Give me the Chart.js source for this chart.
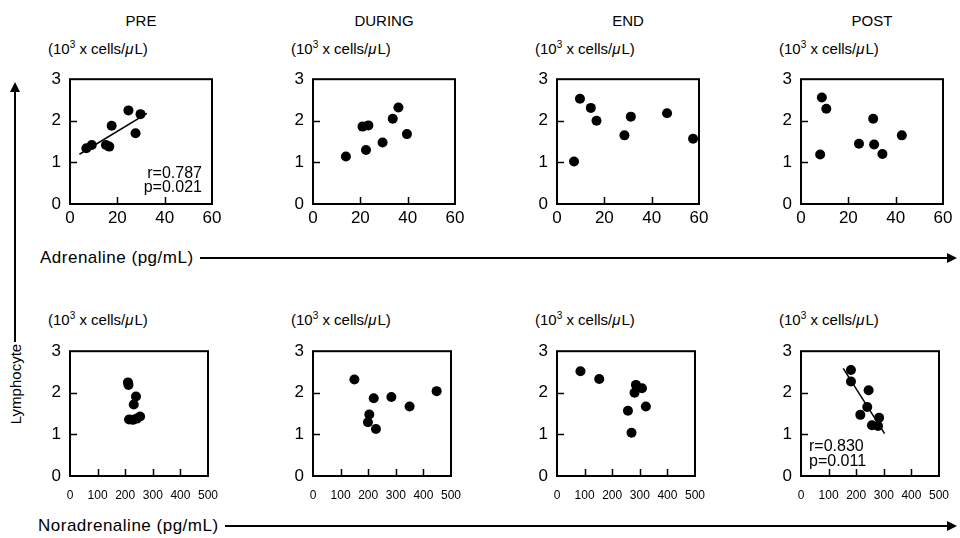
<!DOCTYPE html>
<html>
<head>
<meta charset="utf-8">
<script src="https://cdn.jsdelivr.net/npm/chart.js@4.4.1/dist/chart.umd.min.js"></script>
<style>
  body { margin: 0; width: 960px; height: 538px; background: #fff; position: relative; overflow: hidden;
         font-family: 'Liberation Sans', Arial, sans-serif; color: #000; }
  .txt { position: absolute; white-space: nowrap; line-height: 1; }
  .head { font-size: 15px; transform: translate(-50%, -50%); }
  .unit { font-size: 15px; transform: translateY(-50%); }
  .unit sup { font-size: 10px; vertical-align: 6px; }
  .unit i { font-style: italic; margin-right: 1px; }
  .axisrow { position: absolute; display: flex; align-items: center; font-size: 17px; letter-spacing: 0.5px;
         transform: translateY(-50%); }
  .axisrow .line { flex: 1; height: 2px; background: #000; margin-left: 6px; position: relative; }
  .axisrow .line::after { content: ''; position: absolute; right: -2px; top: -4px;
         border-left: 10px solid #000; border-top: 5px solid transparent; border-bottom: 5px solid transparent; }
  #vline { position: absolute; left: 14px; top: 92px; width: 2px; height: 250px; background: #000; }
  #vline::before { content: ''; position: absolute; left: -4px; top: -10px;
         border-bottom: 10px solid #000; border-left: 5px solid transparent; border-right: 5px solid transparent; }
  #ylab { position: absolute; left: 15px; top: 384px; font-size: 15px; white-space: nowrap;
         transform: translate(-50%, -50%) rotate(-90deg); }
  canvas { position: absolute; }
</style>
</head>
<body>
<div id="vline"></div>
<div id="ylab">Lymphocyte</div>
<div class="axisrow" style="left:40px; right:5px; top:258px;"><span>Adrenaline (pg/mL)</span><div class="line"></div></div>
<div class="axisrow" style="left:38px; right:5px; top:526px;"><span>Noradrenaline (pg/mL)</span><div class="line"></div></div>
<script>
// sampling phases, one column each
const phases = ['PRE', 'DURING', 'END', 'POST'];

// adrenaline (pg/mL) vs lymphocyte (10^3 cells/uL), one array per phase
const adrenalineX = [
  [6.9, 9.2, 15.2, 16.6, 17.6, 24.7, 27.7, 29.8],
  [13.9, 20.9, 23.4, 22.4, 29.4, 33.7, 36.1, 39.7],
  [9.7, 14.3, 16.7, 7.2, 28.5, 31.2, 46.5, 57.5],
  [8.8, 10.7, 8.1, 24.5, 30.5, 30.9, 34.4, 42.6]
];
const adrenalineY = [
  [1.34, 1.42, 1.42, 1.38, 1.88, 2.25, 1.70, 2.16],
  [1.14, 1.86, 1.89, 1.30, 1.48, 2.05, 2.32, 1.68],
  [2.53, 2.31, 2.00, 1.02, 1.65, 2.10, 2.18, 1.57],
  [2.56, 2.29, 1.19, 1.45, 2.05, 1.43, 1.20, 1.65]
];

// noradrenaline (pg/mL) vs lymphocyte
const noradrenalineX = [
  [210, 212, 239, 231, 214, 228, 242, 254],
  [150, 220, 284, 350, 448, 204, 199, 228],
  [85, 153, 286, 308, 281, 322, 257, 270],
  [181, 181, 245, 240, 215, 283, 257, 279]
];
const noradrenalineY = [
  [2.25, 2.19, 1.91, 1.72, 1.36, 1.35, 1.38, 1.43],
  [2.32, 1.87, 1.90, 1.67, 2.04, 1.48, 1.29, 1.13],
  [2.52, 2.33, 2.19, 2.11, 2.00, 1.67, 1.57, 1.04],
  [2.55, 2.27, 2.06, 1.66, 1.47, 1.40, 1.22, 1.20]
];

const adrenalineTicks = [0, 20, 40, 60];
const noradrenalineTicks = [0, 100, 200, 300, 400, 500];
const lymphocyteTicks = [0, 1, 2, 3];

// significant correlations: [row, col, fit range, r, p]
const fits = [
  [0, 0, [4, 32.5], '0.787', '0.021'],
  [1, 3, [153, 303], '0.830', '0.011']
];

const colLeft = [70, 313, 557, 801];
const rowTop = [72, 344];
const AREA_W = 142, AREA_H = 132;
const YW = 34, PAD_T = 12, PAD_R = 18, XH = 34;

function addText(cls, html, left, top) {
  const d = document.createElement('div');
  d.className = 'txt ' + cls;
  d.innerHTML = html;
  d.style.left = left + 'px';
  d.style.top = top + 'px';
  document.body.appendChild(d);
}

function leastSquares(xs, ys) {
  const n = xs.length;
  const mx = xs.reduce((a, b) => a + b, 0) / n;
  const my = ys.reduce((a, b) => a + b, 0) / n;
  let sxy = 0, sxx = 0;
  xs.forEach((x, i) => { sxy += (x - mx) * (ys[i] - my); sxx += (x - mx) * (x - mx); });
  const slope = sxy / sxx;
  return { slope, icept: my - slope * mx };
}

// box frame with inward tick marks, plus the r / p note where there is one
const framePlugin = {
  id: 'frame',
  afterDatasetsDraw(chart, args, opts) {
    const { ctx, chartArea: a, scales: { x, y } } = chart;
    ctx.save();
    ctx.strokeStyle = '#000';
    ctx.lineWidth = 2;
    ctx.strokeRect(a.left, a.top, a.right - a.left, a.bottom - a.top);
    ctx.lineWidth = 1.5;
    ctx.beginPath();
    x.ticks.slice(1, -1).forEach(t => {
      const px = Math.round(x.getPixelForValue(t.value)) + 0.5;
      ctx.moveTo(px, a.bottom); ctx.lineTo(px, a.bottom - 7);
    });
    y.ticks.slice(1, -1).forEach(t => {
      const py = Math.round(y.getPixelForValue(t.value)) + 0.5;
      ctx.moveTo(a.left, py); ctx.lineTo(a.left + 7, py);
    });
    ctx.stroke();
    const note = opts.note;
    if (note) {
      ctx.fillStyle = '#000';
      ctx.font = '16px "Liberation Sans", Arial, sans-serif';
      ctx.textBaseline = 'middle';
      if (note.align === 'right') {
        ctx.textAlign = 'right';
        ctx.fillText('r=' + note.r, a.right - 10, a.bottom - 30);
        ctx.fillText('p=' + note.p, a.right - 10, a.bottom - 16);
      } else {
        ctx.textAlign = 'left';
        ctx.fillText('r=' + note.r, a.left + 8, a.bottom - 29);
        ctx.fillText('p=' + note.p, a.left + 8, a.bottom - 14);
      }
    }
    ctx.restore();
  }
};

function drawPanel(row, col) {
  const xs = row === 0 ? adrenalineX[col] : noradrenalineX[col];
  const ys = row === 0 ? adrenalineY[col] : noradrenalineY[col];
  const xTicks = row === 0 ? adrenalineTicks : noradrenalineTicks;

  const canvas = document.createElement('canvas');
  canvas.width = YW + AREA_W + PAD_R;
  canvas.height = PAD_T + AREA_H + XH;
  canvas.style.left = (colLeft[col] - YW) + 'px';
  canvas.style.top = (rowTop[row] - PAD_T) + 'px';
  document.body.appendChild(canvas);

  const datasets = [{
    data: xs.map((x, i) => ({ x, y: ys[i] })),
    backgroundColor: '#000',
    borderWidth: 0,
    pointRadius: 5
  }];

  let note = null;
  const fit = fits.find(f => f[0] === row && f[1] === col);
  if (fit) {
    const { slope, icept } = leastSquares(xs, ys);
    datasets.push({
      data: fit[2].map(x => ({ x, y: icept + slope * x })),
      showLine: true,
      borderColor: '#000',
      borderWidth: 1.5,
      pointRadius: 0
    });
    note = { r: fit[3], p: fit[4], align: row === 0 ? 'right' : 'left' };
  }

  const tickFont = row === 0
    ? { family: '"Liberation Sans", Arial, sans-serif', size: 17 }
    : { family: '"Liberation Sans Narrow", "Liberation Sans", Arial, sans-serif', size: 12 };

  new Chart(canvas, {
    type: 'scatter',
    data: { datasets },
    options: {
      responsive: false,
      animation: false,
      layout: { padding: { left: 0, top: PAD_T, right: PAD_R, bottom: 0 } },
      plugins: { legend: { display: false }, tooltip: { enabled: false }, frame: { note } },
      scales: {
        x: {
          type: 'linear',
          min: xTicks[0],
          max: xTicks[xTicks.length - 1],
          afterBuildTicks: s => { s.ticks = xTicks.map(v => ({ value: v })); },
          afterFit: s => { s.height = XH; },
          grid: { display: false, drawTicks: false },
          border: { display: false },
          ticks: { color: '#000', font: tickFont, padding: row === 0 ? 4 : 12, maxRotation: 0, autoSkip: false }
        },
        y: {
          type: 'linear',
          min: 0,
          max: 3,
          afterBuildTicks: s => { s.ticks = lymphocyteTicks.map(v => ({ value: v })); },
          afterFit: s => { s.width = YW; },
          grid: { display: false, drawTicks: false },
          border: { display: false },
          ticks: { color: '#000', font: { family: '"Liberation Sans", Arial, sans-serif', size: 17 }, padding: 9 }
        }
      }
    },
    plugins: [framePlugin]
  });

  addText('unit', '(10<sup>3</sup> x cells/<i>μ</i>L)', colLeft[col] - 22, rowTop[row] - (row === 0 ? 24 : 25));
}

phases.forEach((name, col) => {
  addText('head', name, colLeft[col] + AREA_W / 2, 20);
  drawPanel(0, col);
  drawPanel(1, col);
});
</script>
</body>
</html>
